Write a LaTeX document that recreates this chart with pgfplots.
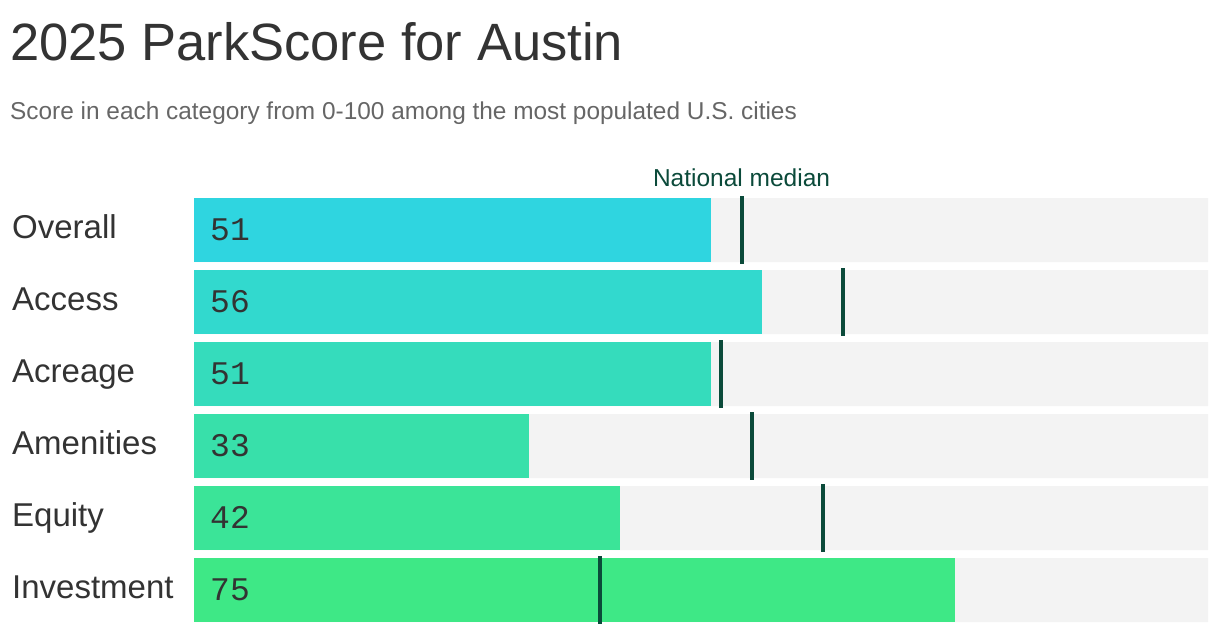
\documentclass[border=0pt]{standalone}
\usepackage{pgfplots}
\pgfplotsset{compat=1.18}
\usepackage{fontspec}
\setmainfont{Liberation Sans}
\newfontfamily\monofont{Liberation Mono}
\definecolor{c0}{HTML}{2FD5E0}
\definecolor{c1}{HTML}{32D9CE}
\definecolor{c2}{HTML}{35DCBC}
\definecolor{c3}{HTML}{38E0AA}
\definecolor{c4}{HTML}{3BE498}
\definecolor{c5}{HTML}{3EE886}
\definecolor{track}{HTML}{F3F3F3}
\definecolor{med}{HTML}{0B4A3A}
\definecolor{ink}{HTML}{333333}
\definecolor{sub}{HTML}{666666}
\begin{document}
\begin{tikzpicture}[x=1bp,y=1bp]
\useasboundingbox (0,0) rectangle (1220,-634);
\node[anchor=base west, inner sep=0pt, text=ink, font=\fontsize{52.5bp}{60bp}\selectfont] at (10,-61) {2025 ParkScore for Austin};
\node[anchor=base west, inner sep=0pt, text=sub, font=\fontsize{24.4bp}{28bp}\selectfont] at (10,-120) {Score in each category from 0-100 among the most populated U.S. cities};
\begin{axis}[at={(194bp,-622bp)}, anchor=south west, scale only axis,
  width=1014bp, height=424bp,
  xmin=0, xmax=100, ymin=-0.44444, ymax=5.44444, y dir=reverse,
  axis line style={draw=none}, major tick length=0pt,
  xtick=\empty, ytick={0,1,2,3,4,5},
  yticklabels={Overall,Access,Acreage,Amenities,Equity,Investment},
  yticklabel style={anchor=base west, inner sep=0pt, xshift=-182bp, yshift=-8bp, text=ink, font=\fontsize{33bp}{36bp}\selectfont},
  clip=false,
  mybar/.style={xbar, bar width=64bp, bar shift=0pt, draw=none}]
% background tracks
\addplot[mybar, fill=track] coordinates {(100,0) (100,1) (100,2) (100,3) (100,4) (100,5)};
% scores
\addplot[mybar, fill=c0] coordinates {(51,0)};
\addplot[mybar, fill=c1] coordinates {(56,1)};
\addplot[mybar, fill=c2] coordinates {(51,2)};
\addplot[mybar, fill=c3] coordinates {(33,3)};
\addplot[mybar, fill=c4] coordinates {(42,4)};
\addplot[mybar, fill=c5] coordinates {(75,5)};
% value labels
\addplot[draw=none, mark=none, nodes near coords, point meta=explicit symbolic,
  nodes near coords style={anchor=base west, xshift=16bp, yshift=-10bp, inner sep=0pt, text=ink, font=\monofont\fontsize{33bp}{36bp}\selectfont}]
  coordinates {(0,0)[51] (0,1)[56] (0,2)[51] (0,3)[33] (0,4)[42] (0,5)[75]};
% national medians
\addplot[draw=none, mark=none, error bars/.cd, y dir=both, y fixed=0.47222,
  error mark=none, error bar style={line width=4bp, color=med}]
  coordinates {(54,0) (64,1) (52,2) (55,3) (62,4) (40,5)};
\node[anchor=base, inner sep=0pt, text=med, font=\fontsize{24.5bp}{28bp}\selectfont] at (axis cs:54,-0.6111) {National median};
\end{axis}
\end{tikzpicture}
\end{document}
